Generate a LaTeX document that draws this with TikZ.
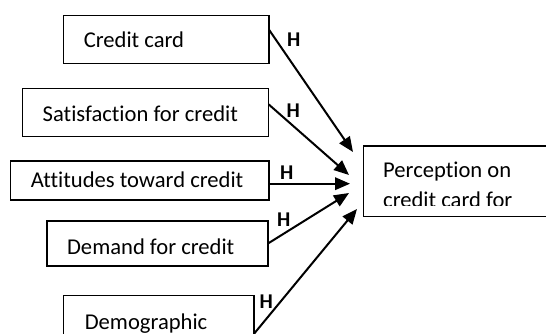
\documentclass[tikz,border=0pt]{standalone}
\usepackage{fontspec}
\setmainfont{Carlito}[Ligatures={NoCommon}]
\usetikzlibrary{arrows.meta}
\begin{document}
\begin{tikzpicture}[x=1pt,y=-1pt,
  box/.style={draw, line width=1.3pt, inner sep=0pt, outer sep=0pt, anchor=north west},
  txt/.style={anchor=base west, inner sep=0pt, font=\fontsize{22.6pt}{26pt}\selectfont},
  hlab/.style={anchor=base west, inner sep=0pt, font=\fontsize{21pt}{24pt}\selectfont\bfseries},
  link/.style={line width=2pt, -{Triangle[length=15pt,width=12.5pt]}}]
\useasboundingbox (0,0) rectangle (546,334);
\clip (0,0) rectangle (546,334);
% boxes
\node[box, minimum width=205.3pt, minimum height=48pt] (b1) at (63.7,15.7) {};
\node[box, minimum width=246.2pt, minimum height=47.7pt] (b2) at (22.6,88.8) {};
\node[box, minimum width=258.6pt, minimum height=39pt] (b3) at (10.4,161) {};
\node[box, minimum width=221pt, minimum height=45pt] (b4) at (47,221) {};
\node[box, minimum width=190.3pt, minimum height=60pt] (b5) at (63.7,295.8) {};
\node[box, minimum width=200pt, minimum height=70.5pt] (p) at (363.3,146) {};
% texts
\node[txt] (t1) at (83.6,48) {Credit card};
\node[txt] (t2) at (42.5,121.9) {Satisfaction for credit};
\node[txt] (t3) at (30.6,187) {Attitudes toward credit};
\node[txt] (t4) at (66.9,254) {Demand for credit};
\node[txt] (t5) at (84.6,329) {Demographic};
\node[txt] (tp1) at (383,177) {Perception on};
\begin{scope}
\clip (363,146) rectangle (546,205.5);
\node[txt] (tp2) at (383,207) {credit card for};
\end{scope}
% arrow tips
\coordinate (e1) at (353,152);
\coordinate (e2) at (349,175);
\coordinate (e3) at (350,183.7);
\coordinate (e4) at (349,193);
\coordinate (e5) at (357,209);
\draw[link] ([yshift=-14pt]b1.north east) -- (e1);
\draw[link] ([yshift=-15.7pt]b2.north east) -- (e2);
\draw[link] ([yshift=-22.7pt]b3.north east) -- (e3);
\draw[link] (b4.east) -- (e4);
\draw[link] ([yshift=-38pt]b5.north east) -- (e5);
% labels
\node[hlab] (h1) at (287,46.5) {H};
\node[hlab] (h2) at (286.5,118) {H};
\node[hlab] (h3) at (280,179) {H};
\node[hlab] (h4) at (277,226) {H};
\node[hlab] (h5) at (259.5,308) {H};
\end{tikzpicture}
\end{document}
